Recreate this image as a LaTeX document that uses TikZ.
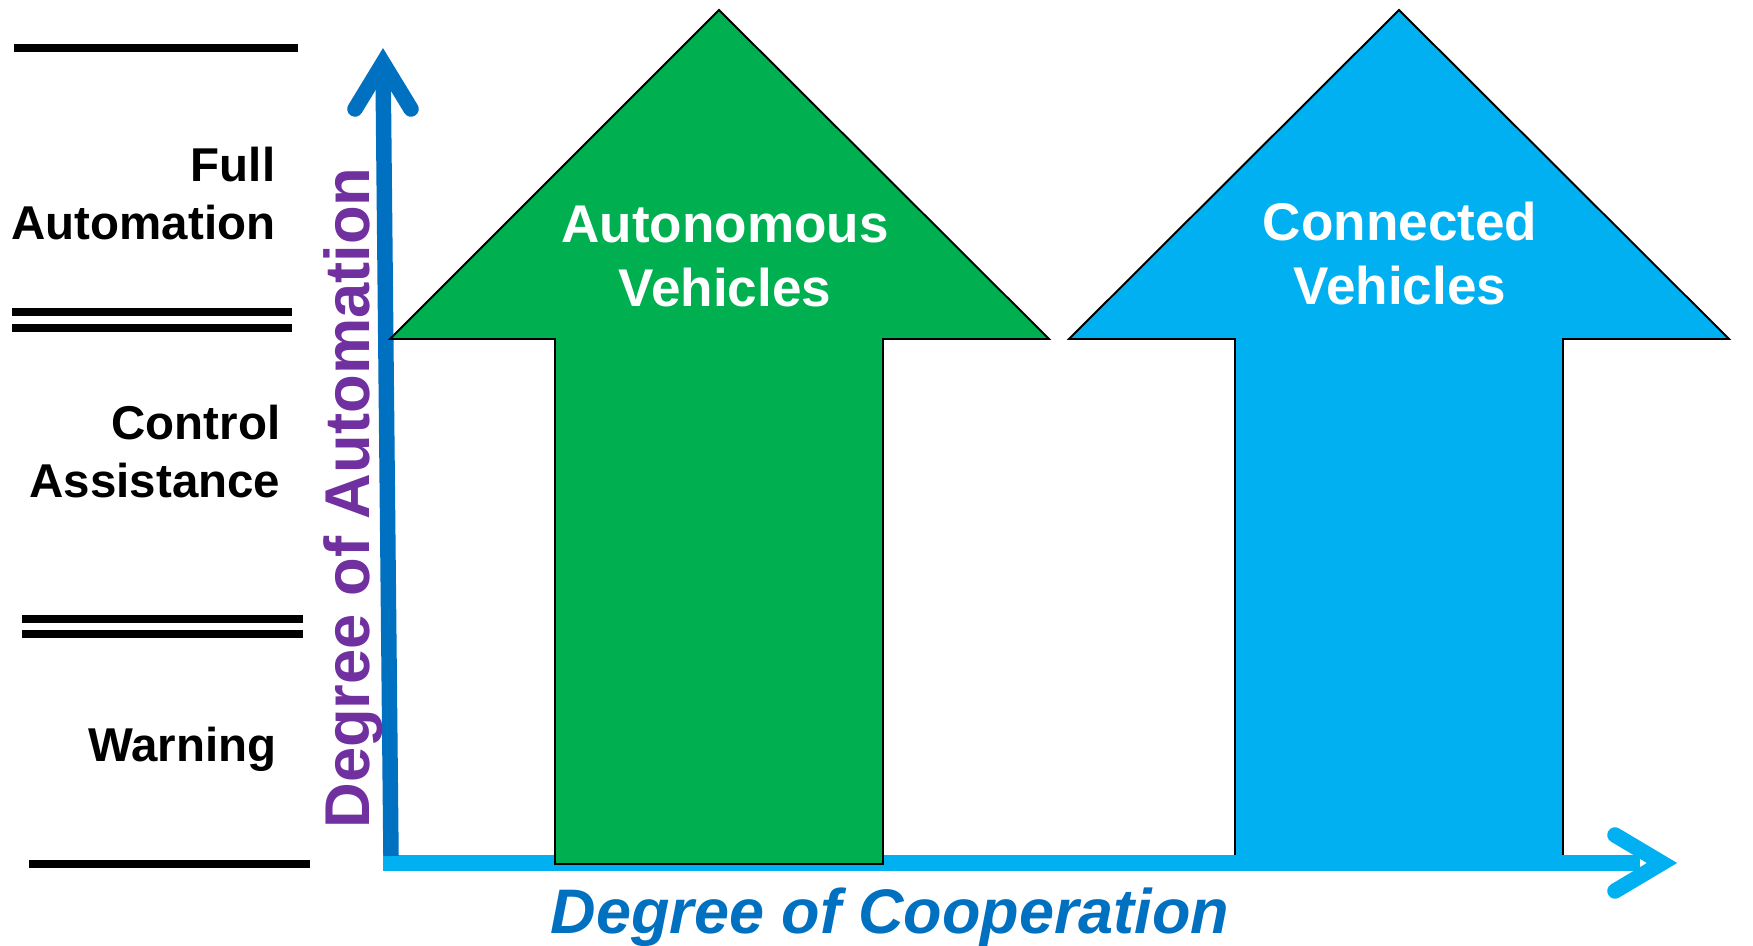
\documentclass[tikz,border=0pt]{standalone}
\usepackage{fontspec}
\setmainfont{Liberation Sans}
\usetikzlibrary{positioning,calc}

\definecolor{autoGreen}{RGB}{0,176,80}
\definecolor{connBlue}{RGB}{0,176,240}
\definecolor{axisBlue}{RGB}{0,112,192}
\definecolor{labelPurple}{RGB}{112,48,160}

\begin{document}
\begin{tikzpicture}[x=0.01cm,y=-0.01cm,
    level line/.style={line width=2pt,black},
    level text/.style={inner sep=0pt,align=right,anchor=base east,font=\bfseries\fontsize{13.5}{16.6}\selectfont},
    big arrow/.style={draw=black,line width=0.55pt,line join=miter},
    arrow text/.style={inner sep=0pt,align=center,anchor=base,text=white,font=\bfseries\fontsize{15.1}{18.4}\selectfont},
    axis line/.style={line width=4.4pt},
    axis tip/.style={line width=4.4pt,line cap=round,line join=miter},
    axis text/.style={inner sep=0pt,anchor=base,font=\bfseries\fontsize{18}{20}\selectfont}]

    \useasboundingbox[fill=white] (0,0) rectangle (1753,946);

    % levels on the left
    \draw[level line] (14,48) -- (298,48);
    \foreach \y in {312,328} \draw[level line] (12,\y) -- (292,\y);
    \foreach \y in {619,634} \draw[level line] (22,\y) -- (303,\y);
    \draw[level line] (29,864) -- (310,864);

    \node[level text] (full) at (276,240) {Full\\Automation};
    \node[level text] (control) at (281,498) {Control\\Assistance};
    \node[level text] (warning) at (277,762) {Warning};

    % connected vehicles
    \coordinate (ctip) at (1399,10);
    \filldraw[big arrow,fill=connBlue] (1069,339) -- (ctip) -- (1729,339) -- (1563,339)
        -- (1563,860) -- (1235,860) -- (1235,339) -- cycle;
    \node[arrow text] (conn) at (1400,305) {Connected\\Vehicles};

    % axes
    \coordinate (origin) at (383,863);
    \coordinate (hend) at (1640,863);
    \coordinate (htip) at (1662,863);
    \coordinate (vstart) at (391,856);
    \coordinate (vtip) at (383,63);

    \draw[axis line,connBlue] (origin) -- (hend);
    \draw[axis tip,connBlue] ($(htip)+(-47,-28)$) -- (htip) -- ($(htip)+(-47,28)$);
    \draw[axis line,axisBlue] (vstart) -- (vtip);
    \draw[axis tip,axisBlue] ($(vtip)+(-28,46)$) -- (vtip) -- ($(vtip)+(28,46)$);

    % autonomous vehicles
    \coordinate (atip) at (719,10);
    \filldraw[big arrow,fill=autoGreen] (390,339) -- (atip) -- (1049,339) -- (883,339)
        -- (883,864) -- (555,864) -- (555,339) -- cycle;
    \node[arrow text] (auto) at (725,307) {Autonomous\\Vehicles};

    % axis labels
    \node[axis text,text=labelPurple,rotate=90] (ylabel) at (369,498) {Degree of Automation};
    \node[axis text,text=axisBlue,font=\bfseries\itshape\fontsize{17.9}{20}\selectfont] (xlabel) at (890,934) {Degree of Cooperation};

\end{tikzpicture}
\end{document}
